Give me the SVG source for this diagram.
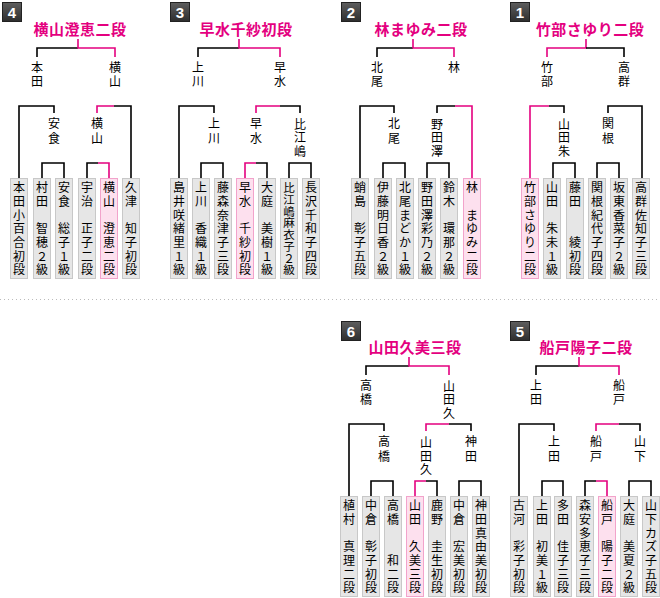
<svg xmlns="http://www.w3.org/2000/svg" width="660" height="598" viewBox="0 0 660 598">
<style>
.t{font-family:"Noto Sans CJK JP","Noto Sans CJK SC",sans-serif;font-size:15px;font-weight:bold;fill:#e4007f;text-anchor:middle;letter-spacing:0.5px}
.l,.n{font-family:"Noto Sans CJK JP","Noto Sans CJK SC",sans-serif;font-size:12px;fill:#000;text-anchor:middle}
.bx{fill:#e6e6e6;stroke:#c8c8c8;stroke-width:1}
.bp{fill:#fde0ee;stroke:#f2a3cb;stroke-width:1}
.k{fill:none;stroke:#000;stroke-width:1.6}
.p{fill:none;stroke:#e4007f;stroke-width:1.6}
.bd{fill:url(#bg);stroke:#222;stroke-width:1}
.bn{font-family:"Liberation Sans",Arial,sans-serif;font-size:15px;font-weight:bold;fill:#fff;text-anchor:middle}
</style>
<defs>
<linearGradient id="bg" x1="0" y1="0" x2="0" y2="1">
<stop offset="0" stop-color="#5e5e5e"/>
<stop offset="1" stop-color="#2e2e2e"/>
</linearGradient>
</defs>
<rect width="660" height="598" fill="#fff"/>
<line x1="0" y1="299.5" x2="660" y2="299.5" stroke="#bbb" stroke-width="1" stroke-dasharray="1 3"/>

<g id="badges">
<g id="badge4"><rect class="bd" x="2.5" y="2.5" width="19" height="19"/><text class="bn" x="12" y="17.5">4</text></g>
<g id="badge3"><rect class="bd" x="170.5" y="2.5" width="19" height="19"/><text class="bn" x="180" y="17.5">3</text></g>
<g id="badge2"><rect class="bd" x="341.5" y="2.5" width="19" height="19"/><text class="bn" x="351" y="17.5">2</text></g>
<g id="badge1"><rect class="bd" x="510.5" y="2.5" width="19" height="19"/><text class="bn" x="520" y="17.5">1</text></g>
<g id="badge6"><rect class="bd" x="341.5" y="321.5" width="19" height="19"/><text class="bn" x="351" y="336.5">6</text></g>
<g id="badge5"><rect class="bd" x="510.5" y="321.5" width="19" height="19"/><text class="bn" x="520" y="336.5">5</text></g>
</g>

<g id="connectors">
<!-- block 4 -->
<path class="k" d="M78,48 H37 V57"/>
<path class="p" d="M78,39 V48 H115 V57"/>
<path class="k" d="M19,178 V106 H54 V113"/>
<path class="p" d="M97,113 V106 H114"/>
<path class="k" d="M114,106 H131 V178"/>
<path class="k" d="M42,178 V163 H64 V178"/>
<path class="k" d="M87,178 V163 H98"/>
<path class="p" d="M98,163 H109 V178"/>
<!-- block 3 -->
<path class="k" d="M239,48 H198 V57"/>
<path class="p" d="M239,39 V48 H280 V57"/>
<path class="k" d="M179,178 V106 H214 V113"/>
<path class="p" d="M256,113 V106 H280"/>
<path class="k" d="M280,106 H300 V113"/>
<path class="k" d="M201,178 V163 H223 V178"/>
<path class="p" d="M245,178 V163 H256"/>
<path class="k" d="M256,163 H267 V178"/>
<path class="k" d="M289,178 V163 H311 V178"/>
<!-- block 2 -->
<path class="k" d="M413,48 H377 V57"/>
<path class="p" d="M413,39 V48 H454 V57"/>
<path class="k" d="M360,178 V106 H394 V113"/>
<path class="k" d="M437,113 V106 H455"/>
<path class="p" d="M455,106 H472 V178"/>
<path class="k" d="M383,178 V163 H405 V178"/>
<path class="k" d="M427,178 V163 H449 V178"/>
<!-- block 1 -->
<path class="p" d="M586,39 V48 H547 V57"/>
<path class="k" d="M586,48 H624 V57"/>
<path class="p" d="M530,178 V106 H549"/>
<path class="k" d="M549,106 H564 V113"/>
<path class="k" d="M608,113 V106 H642 V178"/>
<path class="k" d="M553,178 V163 H575 V178"/>
<path class="k" d="M597,178 V163 H619 V178"/>
<!-- block 6 -->
<path class="k" d="M409,366 H366 V375"/>
<path class="p" d="M409,357 V366 H449 V375"/>
<path class="k" d="M349,496 V424 H384 V431"/>
<path class="p" d="M426,431 V424 H449"/>
<path class="k" d="M449,424 H471 V431"/>
<path class="k" d="M371,496 V481 H393 V496"/>
<path class="p" d="M415,496 V481 H426"/>
<path class="k" d="M426,481 H437 V496"/>
<path class="k" d="M459,496 V481 H481 V496"/>
<!-- block 5 -->
<path class="k" d="M579,366 H536 V375"/>
<path class="p" d="M579,357 V366 H619 V375"/>
<path class="k" d="M519,496 V424 H554 V431"/>
<path class="p" d="M596,431 V424 H619"/>
<path class="k" d="M619,424 H640 V431"/>
<path class="k" d="M542,496 V481 H563 V496"/>
<path class="k" d="M585,496 V481 H596"/>
<path class="p" d="M596,481 H607 V496"/>
<path class="k" d="M629,496 V481 H651 V496"/>
</g>

<g id="titles">
<text id="title4" class="t" x="80" y="34.5">横山澄恵二段</text>
<text id="title3" class="t" x="246" y="34.5">早水千紗初段</text>
<text id="title2" class="t" x="421" y="34.5">林まゆみ二段</text>
<text id="title1" class="t" x="590" y="34.5">竹部さゆり二段</text>
<text id="title6" class="t" x="415" y="352.5">山田久美三段</text>
<text id="title5" class="t" x="586" y="352.5">船戸陽子二段</text>
</g>

<g id="labels">
<g id="lab4"><text class="l" x="37 37" y="71.5 86">本田</text><text class="l" x="115 115" y="71.5 86">横山</text><text class="l" x="54 54" y="128 142.5">安食</text><text class="l" x="97 97" y="128 142.5">横山</text></g>
<g id="lab3"><text class="l" x="198 198" y="71.5 86">上川</text><text class="l" x="280 280" y="71.5 86">早水</text><text class="l" x="214 214" y="128 142.5">上川</text><text class="l" x="256 256" y="128 142.5">早水</text><text class="l" x="300 300 300" y="128.5 142.2 155.9">比江嶋</text></g>
<g id="lab2"><text class="l" x="377 377" y="71.5 86">北尾</text><text class="l" x="454" y="71.5">林</text><text class="l" x="394 394" y="128 142.5">北尾</text><text class="l" x="437 437 437" y="128.5 142.2 155.9">野田澤</text></g>
<g id="lab1"><text class="l" x="547 547" y="71.5 86">竹部</text><text class="l" x="624 624" y="71.5 86">高群</text><text class="l" x="564 564 564" y="128.5 142.2 155.9">山田朱</text><text class="l" x="608 608" y="128 142.5">関根</text></g>
<g id="lab6"><text class="l" x="366 366" y="389.5 404">高橋</text><text class="l" x="449 449 449" y="391 404.3 417.6">山田久</text><text class="l" x="384 384" y="446 460.5">高橋</text><text class="l" x="426 426 426" y="447 460.7 474.4">山田久</text><text class="l" x="471 471" y="446 460.5">神田</text></g>
<g id="lab5"><text class="l" x="536 536" y="389.5 404">上田</text><text class="l" x="619 619" y="389.5 404">船戸</text><text class="l" x="554 554" y="446 460.5">上田</text><text class="l" x="596 596" y="446 460.5">船戸</text><text class="l" x="640 640" y="446 460.5">山下</text></g>
</g>

<g id="players4">
<g id="p4-1"><rect class="bx" x="10.5" y="178.5" width="17" height="100"/><text class="n" x="19 19 19 19 19 19 19" y="192.1 205.8 219.5 233.3 247 260.7 274.4">本田小百合初段</text></g>
<g id="p4-2"><rect class="bx" x="33.5" y="178.5" width="17" height="100"/><text class="n" x="42 42 42 42 42 42 42" y="192.1 205.8 219.5 233.3 247 260.7 274.4">村田　智穂２級</text></g>
<g id="p4-3"><rect class="bx" x="55.5" y="178.5" width="17" height="100"/><text class="n" x="64 64 64 64 64 64 64" y="192.1 205.8 219.5 233.3 247 260.7 274.4">安食　総子１級</text></g>
<g id="p4-4"><rect class="bx" x="78.5" y="178.5" width="17" height="100"/><text class="n" x="87 87 87 87 87 87 87" y="192.1 205.8 219.5 233.3 247 260.7 274.4">宇治　正子二段</text></g>
<g id="p4-5"><rect class="bp" x="100.5" y="178.5" width="17" height="100"/><text class="n" x="109 109 109 109 109 109 109" y="192.1 205.8 219.5 233.3 247 260.7 274.4">横山　澄恵二段</text></g>
<g id="p4-6"><rect class="bx" x="122.5" y="178.5" width="17" height="100"/><text class="n" x="131 131 131 131 131 131 131" y="192.1 205.8 219.5 233.3 247 260.7 274.4">久津　知子初段</text></g>
</g>

<g id="players3">
<g id="p3-1"><rect class="bx" x="170.5" y="178.5" width="17" height="100"/><text class="n" x="179 179 179 179 179 179 179" y="192.1 205.8 219.5 233.3 247 260.7 274.4">島井咲緒里１級</text></g>
<g id="p3-2"><rect class="bx" x="192.5" y="178.5" width="17" height="100"/><text class="n" x="201 201 201 201 201 201 201" y="192.1 205.8 219.5 233.3 247 260.7 274.4">上川　香織１級</text></g>
<g id="p3-3"><rect class="bx" x="214.5" y="178.5" width="17" height="100"/><text class="n" x="223 223 223 223 223 223 223" y="192.1 205.8 219.5 233.3 247 260.7 274.4">藤森奈津子三段</text></g>
<g id="p3-4"><rect class="bp" x="236.5" y="178.5" width="17" height="100"/><text class="n" x="245 245 245 245 245 245 245" y="192.1 205.8 219.5 233.3 247 260.7 274.4">早水　千紗初段</text></g>
<g id="p3-5"><rect class="bx" x="258.5" y="178.5" width="17" height="100"/><text class="n" x="267 267 267 267 267 267 267" y="192.1 205.8 219.5 233.3 247 260.7 274.4">大庭　美樹１級</text></g>
<g id="p3-6"><rect class="bx" x="280.5" y="178.5" width="17" height="100"/><text class="n" style="font-size:11.5px" x="289 289 289 289 289 289 289 289" y="192.1 203.9 215.6 227.4 239.1 250.9 262.7 274.4">比江嶋麻衣子２級</text></g>
<g id="p3-7"><rect class="bx" x="302.5" y="178.5" width="17" height="100"/><text class="n" x="311 311 311 311 311 311 311" y="192.1 205.8 219.5 233.3 247 260.7 274.4">長沢千和子四段</text></g>
</g>

<g id="players2">
<g id="p2-1"><rect class="bx" x="351.5" y="178.5" width="17" height="100"/><text class="n" x="360 360 360 360 360 360 360" y="192.1 205.8 219.5 233.3 247 260.7 274.4">蛸島　彰子五段</text></g>
<g id="p2-2"><rect class="bx" x="374.5" y="178.5" width="17" height="100"/><text class="n" x="383 383 383 383 383 383 383" y="192.1 205.8 219.5 233.3 247 260.7 274.4">伊藤明日香２級</text></g>
<g id="p2-3"><rect class="bx" x="396.5" y="178.5" width="17" height="100"/><text class="n" x="405 405 405 405 405 405 405" y="192.1 205.8 219.5 233.3 247 260.7 274.4">北尾まどか１級</text></g>
<g id="p2-4"><rect class="bx" x="418.5" y="178.5" width="17" height="100"/><text class="n" x="427 427 427 427 427 427 427" y="192.1 205.8 219.5 233.3 247 260.7 274.4">野田澤彩乃２級</text></g>
<g id="p2-5"><rect class="bx" x="440.5" y="178.5" width="17" height="100"/><text class="n" x="449 449 449 449 449 449 449" y="192.1 205.8 219.5 233.3 247 260.7 274.4">鈴木　環那２級</text></g>
<g id="p2-6"><rect class="bp" x="463.5" y="178.5" width="17" height="100"/><text class="n" x="472 472 472 472 472 472 472" y="192.1 205.8 219.5 233.3 247 260.7 274.4">林　まゆみ二段</text></g>
</g>

<g id="players1">
<g id="p1-1"><rect class="bp" x="521.5" y="178.5" width="17" height="100"/><text class="n" x="530 530 530 530 530 530 530" y="192.1 205.8 219.5 233.3 247 260.7 274.4">竹部さゆり二段</text></g>
<g id="p1-2"><rect class="bx" x="543.5" y="178.5" width="17" height="100"/><text class="n" x="552 552 552 552 552 552 552" y="192.1 205.8 219.5 233.3 247 260.7 274.4">山田　朱未１級</text></g>
<g id="p1-3"><rect class="bx" x="566.5" y="178.5" width="17" height="100"/><text class="n" x="575 575 575 575 575 575 575" y="192.1 205.8 219.5 233.3 247 260.7 274.4">藤田　　綾初段</text></g>
<g id="p1-4"><rect class="bx" x="588.5" y="178.5" width="17" height="100"/><text class="n" x="597 597 597 597 597 597 597" y="192.1 205.8 219.5 233.3 247 260.7 274.4">関根紀代子四段</text></g>
<g id="p1-5"><rect class="bx" x="610.5" y="178.5" width="17" height="100"/><text class="n" x="619 619 619 619 619 619 619" y="192.1 205.8 219.5 233.3 247 260.7 274.4">坂東香菜子２級</text></g>
<g id="p1-6"><rect class="bx" x="632.5" y="178.5" width="17" height="100"/><text class="n" x="641 641 641 641 641 641 641" y="192.1 205.8 219.5 233.3 247 260.7 274.4">高群佐知子三段</text></g>
</g>

<g id="players6">
<g id="p6-1"><rect class="bx" x="340.5" y="496.5" width="17" height="100"/><text class="n" x="349 349 349 349 349 349 349" y="510.1 523.8 537.5 551.3 565 578.7 592.4">植村　真理二段</text></g>
<g id="p6-2"><rect class="bx" x="362.5" y="496.5" width="17" height="100"/><text class="n" x="371 371 371 371 371 371 371" y="510.1 523.8 537.5 551.3 565 578.7 592.4">中倉　彰子初段</text></g>
<g id="p6-3"><rect class="bx" x="384.5" y="496.5" width="17" height="100"/><text class="n" x="393 393 393 393 393 393 393" y="510.1 523.8 537.5 551.3 565 578.7 592.4">高橋　　和二段</text></g>
<g id="p6-4"><rect class="bp" x="406.5" y="496.5" width="17" height="100"/><text class="n" x="415 415 415 415 415 415 415" y="510.1 523.8 537.5 551.3 565 578.7 592.4">山田　久美三段</text></g>
<g id="p6-5"><rect class="bx" x="428.5" y="496.5" width="17" height="100"/><text class="n" x="437 437 437 437 437 437 437" y="510.1 523.8 537.5 551.3 565 578.7 592.4">鹿野　圭生初段</text></g>
<g id="p6-6"><rect class="bx" x="450.5" y="496.5" width="17" height="100"/><text class="n" x="459 459 459 459 459 459 459" y="510.1 523.8 537.5 551.3 565 578.7 592.4">中倉　宏美初段</text></g>
<g id="p6-7"><rect class="bx" x="472.5" y="496.5" width="17" height="100"/><text class="n" x="481 481 481 481 481 481 481" y="510.1 523.8 537.5 551.3 565 578.7 592.4">神田真由美初段</text></g>
</g>

<g id="players5">
<g id="p5-1"><rect class="bx" x="510.5" y="496.5" width="17" height="100"/><text class="n" x="519 519 519 519 519 519 519" y="510.1 523.8 537.5 551.3 565 578.7 592.4">古河　彩子初段</text></g>
<g id="p5-2"><rect class="bx" x="533.5" y="496.5" width="17" height="100"/><text class="n" x="542 542 542 542 542 542 542" y="510.1 523.8 537.5 551.3 565 578.7 592.4">上田　初美１級</text></g>
<g id="p5-3"><rect class="bx" x="554.5" y="496.5" width="17" height="100"/><text class="n" x="563 563 563 563 563 563 563" y="510.1 523.8 537.5 551.3 565 578.7 592.4">多田　佳子三段</text></g>
<g id="p5-4"><rect class="bx" x="576.5" y="496.5" width="17" height="100"/><text class="n" x="585 585 585 585 585 585 585" y="510.1 523.8 537.5 551.3 565 578.7 592.4">森安多恵子三段</text></g>
<g id="p5-5"><rect class="bp" x="598.5" y="496.5" width="17" height="100"/><text class="n" x="607 607 607 607 607 607 607" y="510.1 523.8 537.5 551.3 565 578.7 592.4">船戸　陽子二段</text></g>
<g id="p5-6"><rect class="bx" x="620.5" y="496.5" width="17" height="100"/><text class="n" x="629 629 629 629 629 629 629" y="510.1 523.8 537.5 551.3 565 578.7 592.4">大庭　美夏２級</text></g>
<g id="p5-7"><rect class="bx" x="642.5" y="496.5" width="17" height="100"/><text class="n" x="651 651 651 651 651 651 651" y="510.1 523.8 537.5 551.3 565 578.7 592.4">山下カズ子五段</text></g>
</g>
</svg>
